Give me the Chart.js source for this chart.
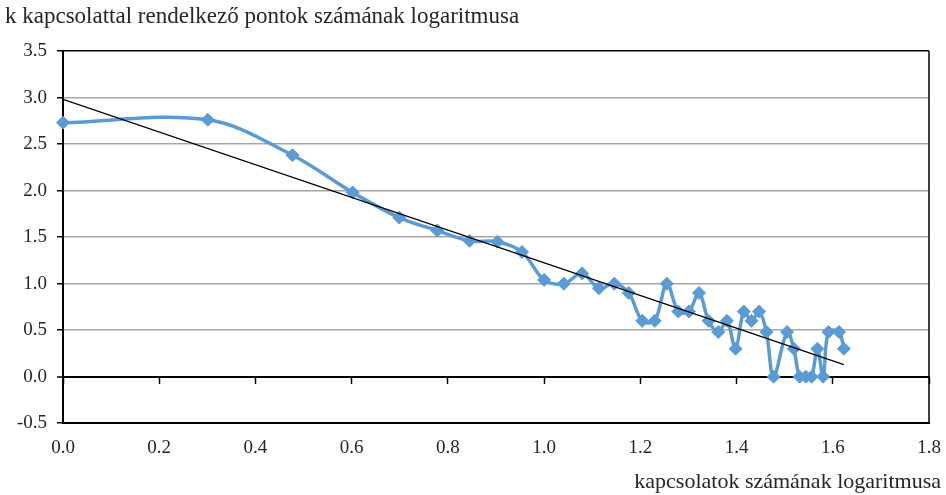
<!DOCTYPE html>
<html lang="hu">
  <head>
    <meta charset="UTF-8" />
    <title>Fokszámeloszlás log-log</title>
    <script src="https://cdn.jsdelivr.net/npm/chart.js"></script>
    <style>
      body {
        margin: 0;
        background: #fff;
        font-family: "Liberation Serif", serif;
      }
      .wrap {
        position: relative;
        width: 946px;
        height: 495px;
      }
      .ytitle {
        position: absolute;
        left: 5px;
        top: 5px;
        font-size: 23px;
        line-height: 22px;
        color: #262626;
        white-space: nowrap;
      }
      .xtitle {
        position: absolute;
        right: 5px;
        top: 470px;
        font-size: 22px;
        line-height: 22px;
        color: #262626;
        white-space: nowrap;
      }
    </style>
  </head>
  <body>
    <div class="wrap">
      <canvas id="myChart"></canvas>
      <div class="ytitle">k kapcsolattal rendelkező pontok számának logaritmusa</div>
      <div class="xtitle">kapcsolatok számának logaritmusa</div>
    </div>

    <script>
      // log(kapcsolatok száma)
      const logDegree = [
        0, 0.301, 0.477, 0.602, 0.699, 0.778, 0.845, 0.903, 0.954, 1.0,
        1.041, 1.079, 1.114, 1.146, 1.176, 1.204, 1.23, 1.255, 1.279, 1.301,
        1.322, 1.342, 1.362, 1.38, 1.398, 1.415, 1.431, 1.447, 1.462, 1.477,
        1.505, 1.519, 1.531, 1.544, 1.556, 1.568, 1.58, 1.591, 1.613, 1.623,
      ];
      // log(k kapcsolattal rendelkező pontok száma)
      const logCount = [
        2.73, 2.76, 2.38, 1.98, 1.71, 1.57, 1.46, 1.45, 1.34, 1.04,
        1.0, 1.11, 0.95, 1.0, 0.9, 0.6, 0.6, 1.0, 0.7, 0.7,
        0.9, 0.6, 0.48, 0.6, 0.3, 0.7, 0.6, 0.7, 0.48, 0,
        0.48, 0.3, 0, 0, 0, 0.3, 0, 0.48, 0.48, 0.3,
      ];
      // lineáris trendvonal végpontjai
      const trendX = [0, 1.623];
      const trendY = [2.98, 0.13];

      const xTicks = { min: 0, max: 1.8, step: 0.2 };
      const yTicks = { min: -0.5, max: 3.5, step: 0.5 };

      const blue = "#5b9bd5";
      const tickFont = { family: "Liberation Serif", size: 19 };

      // a vízszintes tengely ne foglaljon helyet a szélső címkéknek
      function noSidePadding(s) {
        s.paddingLeft = 0;
        s.paddingRight = 0;
      }

      // jobb oldali keret
      const frame = {
        id: "frame",
        afterDraw(chart) {
          const { ctx, chartArea: a } = chart;
          ctx.save();
          ctx.strokeStyle = "#000";
          ctx.lineWidth = 1.5;
          ctx.beginPath();
          ctx.moveTo(a.right, a.top);
          ctx.lineTo(a.right, a.bottom);
          ctx.stroke();
          ctx.restore();
        },
      };

      const ctx = document.getElementById("myChart").getContext("2d");
      new Chart(ctx, {
        type: "scatter",
        data: {
          datasets: [
            {
              label: "trend",
              data: trendX.map((x, i) => ({ x: x, y: trendY[i] })),
              showLine: true,
              borderColor: "#000",
              borderWidth: 1.3,
              pointRadius: 0,
              tension: 0,
            },
            {
              label: "pontok",
              data: logDegree.map((x, i) => ({ x: x, y: logCount[i] })),
              showLine: true,
              clip: false,
              borderColor: blue,
              backgroundColor: blue,
              borderWidth: 3.5,
              tension: 0.35,
              pointStyle: "rectRot",
              pointRadius: 6.5,
              pointBorderWidth: 1,
              pointBackgroundColor: blue,
              pointBorderColor: blue,
            },
          ],
        },
        options: {
          responsive: true,
          maintainAspectRatio: false,
          animation: false,
          layout: { padding: { top: 51, right: 17, bottom: 23, left: 0 } },
          plugins: {
            legend: { display: false },
            tooltip: { enabled: false },
          },
          scales: {
            x: {
              type: "linear",
              position: "bottom",
              min: xTicks.min,
              max: xTicks.max,
              afterFit: noSidePadding,
              ticks: {
                stepSize: xTicks.step,
                padding: 13,
                font: tickFont,
                color: "#262626",
                maxRotation: 0,
                callback: (v) => v.toFixed(1),
              },
              grid: { display: false, drawTicks: false },
              border: { display: true, color: "#000", width: 2 },
            },
            x2: {
              type: "linear",
              axis: "x",
              position: { y: 0 },
              min: xTicks.min,
              max: xTicks.max,
              afterFit: noSidePadding,
              ticks: { display: false, stepSize: xTicks.step },
              grid: {
                drawOnChartArea: false,
                drawTicks: true,
                tickLength: 6,
                tickColor: "#000",
                tickWidth: 1.5,
              },
              border: { display: true, color: "#000", width: 2 },
            },
            y: {
              type: "linear",
              position: "left",
              min: yTicks.min,
              max: yTicks.max,
              afterFit: (s) => {
                s.width = 63;
              },
              ticks: {
                stepSize: yTicks.step,
                padding: 10,
                font: tickFont,
                color: "#262626",
                callback: (v) => v.toFixed(1),
              },
              grid: {
                color: (c) =>
                  c.tick && (c.tick.value === 0 || c.tick.value === 3.5)
                    ? "#000"
                    : "#a6a6a6",
                lineWidth: (c) => (c.tick && c.tick.value === 0 ? 2 : 1.5),
                tickColor: "#000",
                tickLength: 6,
                tickWidth: 1.5,
              },
              border: { color: "#000", width: 2 },
            },
          },
        },
        plugins: [frame],
      });
    </script>
  </body>
</html>
